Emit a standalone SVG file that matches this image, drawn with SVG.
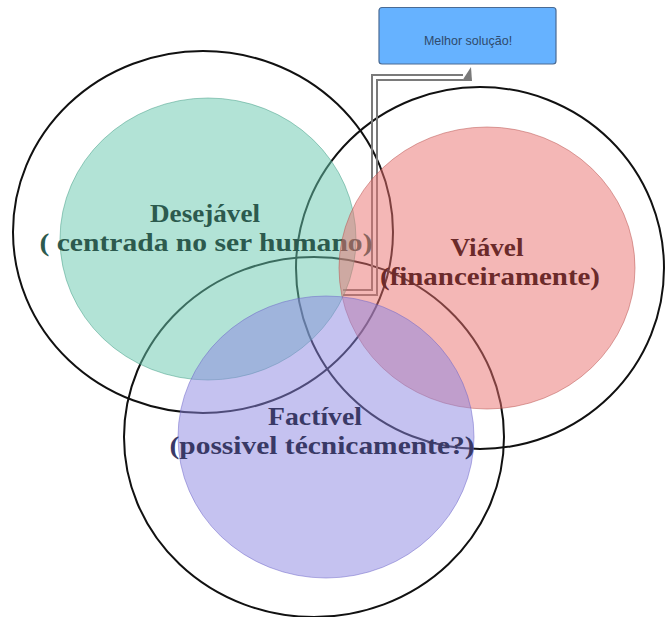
<svg xmlns="http://www.w3.org/2000/svg" width="665" height="617" viewBox="0 0 665 617">
  <style>
    .outer { fill: none; stroke: #111; stroke-width: 2; }
    .lbl { font-family: "Liberation Serif", "Times New Roman", serif; font-weight: bold; font-size: 26px; text-anchor: middle; }
    .pipe { fill: none; stroke: #7a7a7a; stroke-width: 2; stroke-linejoin: miter; }
  </style>
  <rect width="665" height="617" fill="#ffffff"/>
  <g id="outer-rings">
    <ellipse id="ring-desejavel" class="outer" cx="203" cy="232" rx="190" ry="181"/>
    <ellipse id="ring-viavel" class="outer" cx="480" cy="268" rx="184" ry="181"/>
    <ellipse id="ring-factivel" class="outer" cx="314" cy="437" rx="190" ry="180"/>
  </g>
  <g id="connectors">
    <polyline class="pipe" points="343,295 377,295 377,80 463,80"/>
    <polyline class="pipe" points="343,290 372,290 372,75 463,75"/>
    <polygon points="462,81 472,81 471,67" fill="#7a7a7a"/>
  </g>
  <g id="node-desejavel">
    <ellipse cx="208" cy="239" rx="148" ry="141" fill="#66c8ad" fill-opacity="0.5" stroke="#3f9c84" stroke-opacity="0.5" stroke-width="1"/>
    <text class="lbl" fill="#2c5a4e"><tspan x="205" y="222" textLength="110" lengthAdjust="spacingAndGlyphs">Desejável</tspan><tspan x="206" y="251" textLength="333" lengthAdjust="spacingAndGlyphs">( centrada no ser humano)</tspan></text>
  </g>
  <g id="node-viavel">
    <ellipse cx="487" cy="268" rx="148" ry="141" fill="#ea6f6d" fill-opacity="0.5" stroke="#b8504c" stroke-opacity="0.5" stroke-width="1"/>
    <text class="lbl" fill="#6b2a2a"><tspan x="487" y="256" textLength="73" lengthAdjust="spacingAndGlyphs">Viável</tspan><tspan x="490" y="285" textLength="220" lengthAdjust="spacingAndGlyphs">(financeiramente)</tspan></text>
  </g>
  <g id="node-factivel">
    <ellipse cx="326" cy="437" rx="148" ry="141" fill="#8c85e2" fill-opacity="0.5" stroke="#6b63c8" stroke-opacity="0.5" stroke-width="1"/>
    <text class="lbl" fill="#393966"><tspan x="315" y="425" textLength="94" lengthAdjust="spacingAndGlyphs">Factível</tspan><tspan x="322" y="454" textLength="305" lengthAdjust="spacingAndGlyphs">(possivel técnicamente?)</tspan></text>
  </g>
  <g id="node-melhor">
    <rect x="379" y="7.5" width="177" height="56.5" rx="3" ry="3" fill="#66b2ff" stroke="#4a6b94" stroke-width="1.2"/>
    <text x="468" y="45" font-family="'Liberation Sans', Arial, sans-serif" font-size="12.5" fill="#2f4a6c" text-anchor="middle">Melhor solução!</text>
  </g>
</svg>
